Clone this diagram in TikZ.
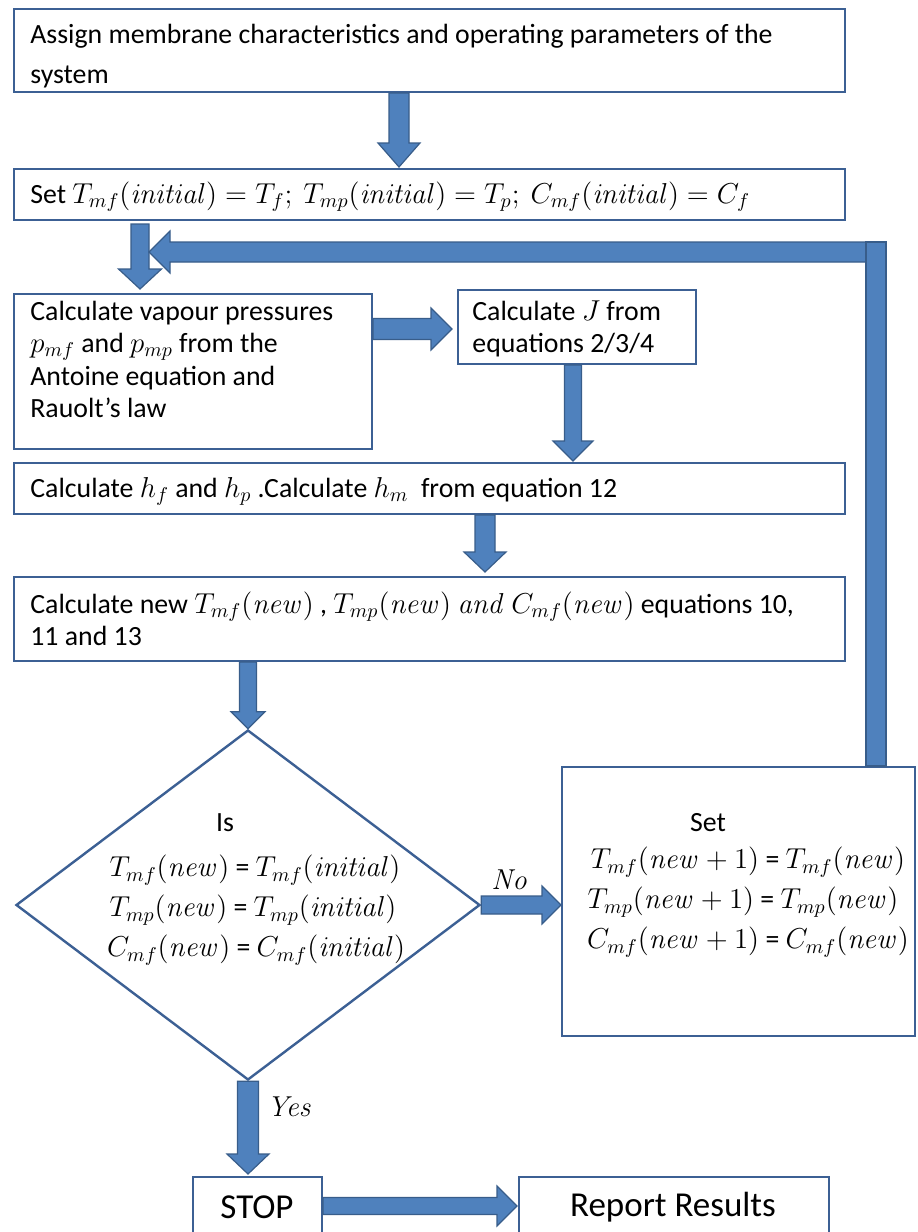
\documentclass[tikz,border=0pt]{standalone}
\usepackage[no-math]{fontspec}
\setmainfont{Carlito}
\usetikzlibrary{calc,fit,shapes.geometric}
\definecolor{boxc}{RGB}{60,96,148}
\definecolor{arrf}{RGB}{79,129,189}
\definecolor{arrd}{RGB}{56,93,138}
\newcommand\mynew{\mathit{new}}
\newcommand\myini{\mathit{initial}}
% down block arrow: #1 start, #2 tip, #3 shaft half width, #4 head half width, #5 head length
\newcommand\DArrow[5]{\filldraw[blk] let \p1=(#1), \p2=(#2) in
  (\x1-#3,\y1) -- (\x1-#3,\y2+#5) -- (\x1-#4,\y2+#5) -- (\x1,\y2) --
  (\x1+#4,\y2+#5) -- (\x1+#3,\y2+#5) -- (\x1+#3,\y1) -- cycle;}
% right block arrow
\newcommand\RArrow[5]{\filldraw[blk] let \p1=(#1), \p2=(#2) in
  (\x1,\y1+#3) -- (\x2-#5,\y1+#3) -- (\x2-#5,\y1+#4) -- (\x2,\y1) --
  (\x2-#5,\y1-#4) -- (\x2-#5,\y1-#3) -- (\x1,\y1-#3) -- cycle;}
\tikzset{
  box/.style={draw=boxc, line width=1pt, inner sep=0pt},
  blk/.style={fill=arrf, draw=arrd, line width=0.6pt, line join=miter},
  txt/.style={inner sep=0pt, font=\fontsize{13.9pt}{16pt}\selectfont},
  big/.style={inner sep=0pt, font=\fontsize{17.5pt}{20pt}\selectfont},
}
\begin{document}
\begin{tikzpicture}[x=0.5pt,y=-0.5pt]
\useasboundingbox (0,0) rectangle (917,1232);
\clip (0,0) rectangle (917,1232);
\fill[white] (0,0) rectangle (917,1232);

% boxes
\node[box, fit={(14,9) (845,92)}] (b1) {};
\node[box, fit={(14,169) (845,220)}] (b2) {};
\node[box, fit={(14,294) (372,449)}] (b3) {};
\node[box, fit={(458,290) (696,364)}] (b4) {};
\node[box, fit={(14,463) (845,514)}] (b5) {};
\node[box, fit={(14,577) (845,661)}] (b6) {};
\node[draw=boxc, line width=1.2pt, shape=diamond, inner sep=0pt,
      minimum width=232pt, minimum height=175pt] (dia) at (248,905) {};
\node[box, fit={(562,767) (915,1036)}] (setb) {};
\node[box, fit={(193,1177) (322,1245)}] (stop) {};
\node[box, fit={(519,1177) (829,1245)}] (rep) {};

% texts
\node[txt, anchor=base west] (t1a) at (30,43) {Assign membrane characteristics and operating parameters of the};
\node[txt, anchor=base west] (t1b) at (30,83) {system};
\node[txt, anchor=base west] (t2) at (30,203) {Set $T_{mf}(\myini) = T_f;\ T_{mp}(\myini) = T_p;\ C_{mf}(\myini) = C_f$};
\node[txt, anchor=base west] (t3a) at (30,320) {Calculate vapour pressures};
\node[txt, anchor=base west] (t3b) at (30,352) {$p_{mf}$ and $p_{mp}$ from the};
\node[txt, anchor=base west] (t3c) at (30,385) {Antoine equation and};
\node[txt, anchor=base west] (t3d) at (30,417) {Rauolt’s law};
\node[txt, anchor=base west] (t4a) at (472,320) {Calculate $J$ from};
\node[txt, anchor=base west] (t4b) at (472,352) {equations 2/3/4};
\node[txt, anchor=base west] (t5) at (30,497) {Calculate $h_f$ and $h_p$ .Calculate $h_m$\ \ from equation 12};
\node[txt, anchor=base west] (t6a) at (30,613) {Calculate new $T_{mf}(\mynew)$ , $T_{mp}(\mynew)\ \mathit{and}\ C_{mf}(\mynew)$ equations 10,};
\node[txt, anchor=base west] (t6b) at (30,645) {11 and 13};

\node[txt] (tis) at (225,823) {Is};
\node[txt] (td1) at (255,870) {$T_{mf}(\mynew)$ = $T_{mf}(\myini)$};
\node[txt] (td2) at (253,910) {$T_{mp}(\mynew)$ = $T_{mp}(\myini)$};
\node[txt] (td3) at (256,950) {$C_{mf}(\mynew)$ = $C_{mf}(\myini)$};

\node[txt] (tset) at (708,823) {Set};
\node[txt] (ts1) at (748,862) {$T_{mf}(\mynew+1)$ = $T_{mf}(\mynew)$};
\node[txt] (ts2) at (743,902) {$T_{mp}(\mynew+1)$ = $T_{mp}(\mynew)$};
\node[txt] (ts3) at (748,942) {$C_{mf}(\mynew+1)$ = $C_{mf}(\mynew)$};

\node[txt] (tno) at (510,880) {$\mathit{No}$};
\node[txt] (tyes) at (290,1107) {$\mathit{Yes}$};
\node[big] (tstop) at (257,1207) {STOP};
\node[big] (trep) at (673,1207) {Report Results};

% connector anchor points
\coordinate (a1s) at ($(b1.south west)+(386,0)$);
\coordinate (a1e) at ($(a1s |- b2.north)+(0,-1)$);
\coordinate (a2s) at ($(b2.south west)+(127,3)$);
\coordinate (a2e) at ($(a2s |- b3.north)+(0,-4)$);
\coordinate (a3s) at (b3.east |- 0,329);
\coordinate (a3e) at ($(a3s -| b4.west)+(-5,0)$);
\coordinate (a4s) at ($(b4.south west)+(116,0)$);
\coordinate (a4e) at ($(a4s |- b5.north)+(0,-1)$);
\coordinate (a5s) at ($(b5.south west)+(472,0)$);
\coordinate (a5e) at ($(a5s |- b6.north)+(0,-4)$);
\coordinate (a6s) at (dia.north |- b6.south);
\coordinate (a7e) at (dia.east -| setb.west);
\coordinate (a8e) at ($(dia.south |- stop.north)+(0,-2)$);
\coordinate (a9s) at (stop.east |- 0,1206);
\coordinate (a9e) at ($(a9s -| rep.west)+(-1,0)$);
\coordinate (ls) at ([xshift=-20pt]setb.north east);
\coordinate (lt) at ($(a2s)+(9,28)$);

% block arrows
\DArrow{a1s}{a1e}{5pt}{10.5pt}{12pt}
\DArrow{a2s}{a2e}{4.5pt}{10.75pt}{10pt}
\RArrow{a3s}{a3e}{5.25pt}{10.5pt}{10.5pt}
\DArrow{a4s}{a4e}{4.25pt}{10pt}{10pt}
\DArrow{a5s}{a5e}{5pt}{10.5pt}{10pt}
\DArrow{a6s}{dia.north}{4.25pt}{8.5pt}{8.5pt}
\RArrow{dia.east}{a7e}{4.5pt}{9.5pt}{9.5pt}
\DArrow{dia.south}{a8e}{5.25pt}{10.5pt}{10pt}
\RArrow{a9s}{a9e}{4.25pt}{10pt}{10pt}

% feedback loop
\filldraw[blk] let \p1=(ls), \p2=(lt) in
  (\x1+5pt,\y2+5pt) -- (\x2+10.5pt,\y2+5pt) -- (\x2+10.5pt,\y2+10.5pt) -- (\x2,\y2) --
  (\x2+10.5pt,\y2-10.5pt) -- (\x2+10.5pt,\y2-5pt) -- (\x1+5pt,\y2-5pt) -- cycle;
\filldraw[blk] let \p1=(ls), \p2=(lt) in
  (\x1-5pt,\y1) rectangle (\x1+5pt,\y2+5pt);
\end{tikzpicture}
\end{document}
